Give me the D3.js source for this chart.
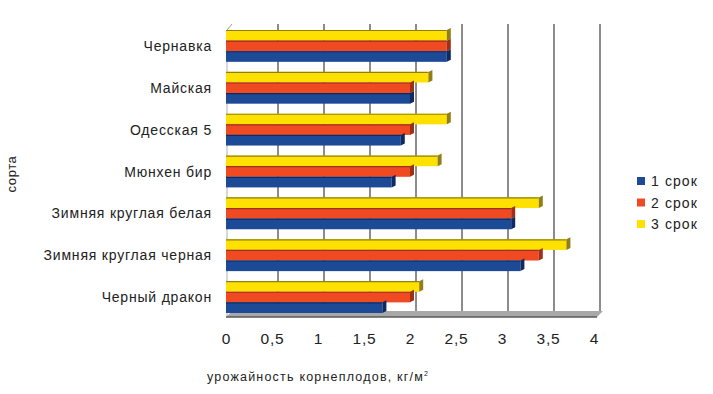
<!DOCTYPE html>
<html>
<head>
<meta charset="utf-8">
<script src="https://cdn.jsdelivr.net/npm/d3@7"></script>
<style>
  body { margin: 0; background: #fff; }
  svg text { font-family: "Liberation Sans", Arial, sans-serif; fill: #222; }
</style>
</head>
<body>
<div id="chart"></div>
<script>
const varieties = ["Чернавка", "Майская", "Одесская 5", "Мюнхен бир",
  "Зимняя круглая белая", "Зимняя круглая черная", "Черный дракон"];
const series = ["1 срок", "2 срок", "3 срок"];
const term1 = [2.4, 2.0, 1.9, 1.8, 3.1, 3.2, 1.7];
const term2 = [2.4, 2.0, 2.0, 2.0, 3.1, 3.4, 2.0];
const term3 = [2.4, 2.2, 2.4, 2.3, 3.4, 3.7, 2.1];
const xTicks = [0, 0.5, 1, 1.5, 2, 2.5, 3, 3.5, 4];

const colors = { "1 срок": "#1d4a96", "2 срок": "#f04a23", "3 срок": "#ffe100" };
const darks = { "1 срок": "#0e2a5e", "2 срок": "#9c3118", "3 срок": "#8f7f14" };

const W = 713, H = 394;
const depth = { dx: 6, dy: -6 };

const svg = d3.select("#chart").append("svg")
  .attr("width", W).attr("height", H);

const x = d3.scaleLinear().domain([0, 4]).range([226, 594]);
const y = d3.scaleBand().domain(varieties).range([25, 318])
  .paddingInner(0.24).paddingOuter(0.12);
// 3 срок on top, 1 срок at the bottom of each group
const ySub = d3.scaleBand().domain(["3 срок", "2 срок", "1 срок"])
  .range([0, y.bandwidth()]);

const floorY = 317;

// back wall gridlines
svg.append("g").selectAll("line")
  .data(xTicks.filter(d => d > 0))
  .join("line")
  .attr("x1", d => x(d) + depth.dx).attr("x2", d => x(d) + depth.dx)
  .attr("y1", 24).attr("y2", floorY + depth.dy)
  .attr("stroke", "#8c8c8c").attr("stroke-width", 2);

// left wall edge
svg.append("line")
  .attr("x1", x(0) + 1).attr("x2", x(0) + 1)
  .attr("y1", 30).attr("y2", floorY)
  .attr("stroke", "#b0b0b0").attr("stroke-width", 1);
svg.append("line")
  .attr("x1", x(0) + 1).attr("x2", x(0) + depth.dx)
  .attr("y1", 30).attr("y2", 24)
  .attr("stroke", "#999").attr("stroke-width", 1);

// floor
svg.append("polygon")
  .attr("points", [
    [x(0), floorY], [x(0) + depth.dx, floorY + depth.dy],
    [x(4) + depth.dx + 3, floorY + depth.dy], [x(4) + 3, floorY]
  ].map(p => p.join(",")).join(" "))
  .attr("fill", "#a8a8a8");
svg.append("line")
  .attr("x1", x(0)).attr("x2", x(4) + 3)
  .attr("y1", floorY).attr("y2", floorY)
  .attr("stroke", "#5a5a5a").attr("stroke-width", 1.5);

// bars
const rows = [];
varieties.forEach((v, i) => {
  rows.push({ v, s: "3 срок", val: term3[i] });
  rows.push({ v, s: "2 срок", val: term2[i] });
  rows.push({ v, s: "1 срок", val: term1[i] });
});

const cap = 4;
const bars = svg.append("g").selectAll("g").data(rows).join("g");

bars.append("rect")
  .attr("x", x(0))
  .attr("y", d => y(d.v) + ySub(d.s))
  .attr("width", d => x(d.val) - x(0))
  .attr("height", ySub.bandwidth())
  .attr("fill", d => colors[d.s]);

bars.append("polygon")
  .attr("points", d => {
    const x1 = x(d.val), y0 = y(d.v) + ySub(d.s), y1 = y0 + ySub.bandwidth();
    return [[x1, y0], [x1 + cap, y0 - 2], [x1 + cap, y1 - 2], [x1, y1]]
      .map(p => p.join(",")).join(" ");
  })
  .attr("fill", d => darks[d.s]);

bars.append("line")
  .attr("x1", x(0))
  .attr("x2", d => x(d.val))
  .attr("y1", d => y(d.v) + ySub(d.s) + 0.5)
  .attr("y2", d => y(d.v) + ySub(d.s) + 0.5)
  .attr("stroke", d => darks[d.s]).attr("stroke-width", 1.2);

// category labels
svg.append("g").selectAll("text")
  .data(varieties)
  .join("text")
  .attr("x", 212)
  .attr("y", d => y(d) + y.bandwidth() / 2 + 5)
  .attr("text-anchor", "end")
  .style("font-size", "14px")
  .style("letter-spacing", "0.8px")
  .text(d => d);

// x tick labels
const fmt = d => String(d).replace(".", ",");
svg.append("g").selectAll("text")
  .data(xTicks)
  .join("text")
  .attr("x", d => x(d) + 0.5)
  .attr("y", 344)
  .attr("text-anchor", "middle")
  .style("font-size", "15.5px")
  .style("letter-spacing", "0.8px")
  .text(fmt);

// axis titles
const xt = svg.append("text")
  .attr("x", 207).attr("y", 381)
  .style("font-size", "12.5px")
  .style("letter-spacing", "1.2px")
  .text("урожайность корнеплодов, кг/м");
xt.append("tspan").attr("dy", -5).style("font-size", "7px").text("2");

svg.append("text")
  .attr("transform", "translate(16,174) rotate(-90)")
  .attr("text-anchor", "middle")
  .style("font-size", "13px")
  .style("letter-spacing", "0.6px")
  .text("сорта");

// legend
const legend = svg.append("g").selectAll("g")
  .data(series)
  .join("g")
  .attr("transform", (d, i) => `translate(637,${177 + i * 21.5})`);
legend.append("rect")
  .attr("width", 8).attr("height", 8)
  .attr("fill", d => colors[d]);
legend.append("text")
  .attr("x", 14).attr("y", 9)
  .style("font-size", "14px")
  .style("letter-spacing", "1.1px")
  .text(d => d);
</script>
</body>
</html>
